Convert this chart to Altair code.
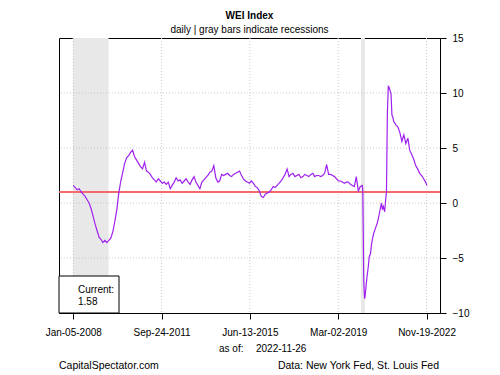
import altair as alt
import pandas as pd

# ---------------- data ----------------
# monthly readings, Jan 2008 .. Feb 2020
pre_values = [
    1.6, 1.4, 1.2, 1.3, 1.0, 0.8, 0.6, 0.3, 0.0, -0.5,
    -1.2, -1.9, -2.5, -3.1, -3.3, -3.6, -3.4, -3.6, -3.4, -3.2,
    -2.6, -1.7, -0.6, 0.9, 2.0, 2.8, 3.6, 4.1, 4.3, 4.6,
    4.8, 4.2, 3.9, 3.6, 3.3, 3.1, 3.7, 2.9, 2.8, 2.6,
    2.3, 2.1, 1.9, 2.2, 2.0, 1.8, 1.9, 1.7, 1.9, 1.3,
    1.6, 1.9, 2.3, 2.0, 2.1, 1.8, 2.0, 2.2, 1.9, 1.7,
    2.1, 2.4, 1.9, 1.6, 1.3, 1.9, 2.1, 2.3, 2.5, 2.8,
    2.9, 3.4, 2.3, 1.9, 2.0, 2.6, 2.5, 2.6, 2.7, 2.5,
    2.4, 2.6, 2.7, 2.8, 2.9, 2.5, 2.2, 2.0, 1.9, 1.8,
    2.0, 1.8, 1.5, 1.4, 1.1, 0.6, 0.5, 0.8, 0.9, 1.0,
    1.2, 1.5, 1.4, 1.6, 1.8, 2.0, 2.3, 2.6, 3.1, 2.4,
    2.6, 2.7, 2.4, 2.5, 2.6, 2.3, 2.4, 2.6, 2.5, 2.4,
    2.6, 2.7, 2.4, 2.5, 2.5, 2.4, 2.5, 2.7, 3.5, 2.6,
    2.6, 2.5, 2.4, 2.2, 2.0, 2.0, 1.9, 1.8, 1.9, 1.9,
    1.7, 1.6, 1.5, 2.4, 1.1, 1.5,
]
pre_dates = (pd.date_range("2008-01-01", periods=len(pre_values), freq="MS")
             + pd.Timedelta(days=4)).strftime("%Y-%m-%d").tolist()

# pandemic period, finer readings
covid_dates = [
    "2020-03-07", "2020-03-14", "2020-03-21", "2020-03-28", "2020-04-04",
    "2020-04-11", "2020-04-18", "2020-05-02", "2020-05-16", "2020-06-06",
    "2020-06-20", "2020-07-11", "2020-07-25", "2020-08-08", "2020-08-29",
    "2020-09-19", "2020-10-03", "2020-10-24", "2020-11-14", "2020-12-05",
    "2020-12-26", "2021-01-09", "2021-01-23", "2021-02-13", "2021-02-27",
    "2021-03-13", "2021-03-27", "2021-04-10", "2021-04-24", "2021-05-08",
    "2021-05-22", "2021-06-05", "2021-06-19", "2021-07-03",
]
covid_values = [
    1.6, 1.0, -2.5, -7.0, -8.0, -8.7, -8.5, -7.6, -6.8, -5.8,
    -4.9, -4.6, -3.8, -3.3, -2.75, -2.4, -2.15, -1.8, -1.25, -0.6,
    0.0, -0.6, -0.3, -0.8, 0.2, 1.0, 8.2, 10.6, 10.5, 10.2,
    9.9, 8.0, 7.8, 7.4,
]

# monthly readings, Aug 2021 .. Nov 2022, then the latest value
post_values = [7.1, 6.9, 6.4, 5.6, 6.2, 5.4, 5.9, 4.8, 4.4, 4.0,
               3.4, 3.1, 2.7, 2.5, 2.2, 1.9]
post_dates = (pd.date_range("2021-08-01", periods=len(post_values), freq="MS")
              + pd.Timedelta(days=4)).strftime("%Y-%m-%d").tolist()
last_date = "2022-11-26"
last_value = 1.58

rec_start = ["2008-01-01", "2020-02-15"]
rec_end = ["2009-07-01", "2020-04-15"]

x_ticks = ["2008-01-05", "2011-09-24", "2015-06-13", "2019-03-02", "2022-11-19"]
y_ticks = [-10, -5, 0, 5, 10, 15]
y_grid = [-5, 0, 5, 10]
ref_level = [1.0]

df = pd.DataFrame({
    "date": pre_dates + covid_dates + post_dates + [last_date],
    "value": pre_values + covid_values + post_values + [last_value],
})
rec_df = pd.DataFrame({"start": rec_start, "end": rec_end})
xt_df = pd.DataFrame({"d": x_ticks})
yg_df = pd.DataFrame({"v": y_grid})
ref_df = pd.DataFrame({"level": ref_level})

# ---------------- chart ----------------
W, H = 381, 275
FONT = "Liberation Sans"


def dt(s):
    y, m, d = (int(p) for p in s.split("-"))
    return alt.DateTime(year=y, month=m, date=d, utc=True)


xscale = alt.Scale(type="utc", domain=[dt("2007-05-31"), dt("2023-06-14")])
yscale = alt.Scale(domain=[-10, 15], nice=False, zero=False)

xaxis = alt.Axis(values=[dt(s) for s in x_ticks],
                 labelExpr="utcFormat(datum.value, '%b-%d-%Y')",
                 tickSize=6, labelPadding=8,
                 labelOverlap=False, labelFlush=False, title=None)
yaxis = alt.Axis(orient="right", values=y_ticks, tickSize=6,
                 labelPadding=6, labelAlign="left", labelBaseline="middle",
                 labelOverlap=False, labelFlush=False, title=None)

rects = alt.Chart(rec_df).mark_rect(color="#E8E8E8").encode(
    x=alt.X("start:T", scale=xscale, axis=xaxis),
    x2="end:T",
)

vgrid = alt.Chart(xt_df).mark_rule(color="#C8C8C8", strokeDash=[1, 2], strokeWidth=1).encode(
    x=alt.X("d:T", scale=xscale, axis=xaxis)
)
hgrid = alt.Chart(yg_df).mark_rule(color="#C8C8C8", strokeDash=[1, 2], strokeWidth=1).encode(
    y=alt.Y("v:Q", scale=yscale, axis=yaxis)
)

ref = alt.Chart(ref_df).mark_rule(color="#F26A6A", strokeWidth=2).encode(
    y=alt.Y("level:Q", scale=yscale, axis=yaxis)
)

line = alt.Chart(df).mark_line(color="#A020F0", strokeWidth=1.2).encode(
    x=alt.X("date:T", scale=xscale, axis=xaxis),
    y=alt.Y("value:Q", scale=yscale, axis=yaxis),
)

one = alt.Data(values=[{}])

cur_box = alt.Chart(one).mark_rect(fill="white", stroke="black", strokeWidth=1).encode(
    x=alt.value(0), x2=alt.value(60), y=alt.value(238), y2=alt.value(H)
)


def label(text, x, y, align="left", bold=False, size=10):
    return alt.Chart(one).mark_text(
        text=text, align=align, baseline="alphabetic", font=FONT,
        fontSize=size, fontWeight="bold" if bold else "normal", color="black"
    ).encode(x=alt.value(x), y=alt.value(y))


texts = [
    label("WEI Index", W / 2, -19, align="center", bold=True),
    label("daily | gray bars indicate recessions", W / 2, -5.5, align="center"),
    label("Current:", 19, 255),
    label("1.58", 19, 267),
    label("as of:", 160, 314),
    label("2022-11-26", 197, 314),
    label("CapitalSpectator.com", 0, 331, size=10.5),
    label("Data: New York Fed, St. Louis Fed", 380, 331, align="right", size=10.5),
]

chart = alt.layer(rects, vgrid, hgrid, ref, line, cur_box, *texts).properties(
    width=W, height=H,
    autosize=alt.AutoSizeParams(type="none"),
    padding={"left": 51, "top": 30, "right": 52, "bottom": 58},
).configure_view(
    stroke="black", strokeWidth=1
).configure_axis(
    labelFont=FONT, labelFontSize=10, labelColor="black",
    tickColor="black", domain=False, grid=False,
)

chart.save("out.html", embed_options={"renderer": "svg", "actions": False})
